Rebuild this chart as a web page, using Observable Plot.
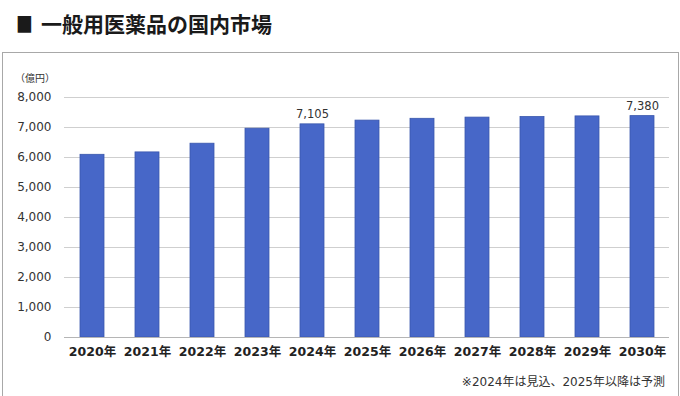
<!DOCTYPE html>
<html>
<head>
<meta charset="utf-8">
<script src="https://cdn.jsdelivr.net/npm/d3@7"></script>
<script src="https://cdn.jsdelivr.net/npm/@observablehq/plot@0.6"></script>
<style>
  html, body { margin: 0; padding: 0; background: #fff; }
  body { width: 680px; height: 396px; position: relative; overflow: hidden;
         font-family: "DejaVu Sans", "Noto Sans CJK JP", sans-serif; }
  #title { position: absolute; left: 16px; top: 8px; font-family: "Noto Sans CJK JP", sans-serif;
           font-weight: 700; font-size: 21px; color: #1a1a1a; white-space: nowrap; }
  #title .sq { display: inline-block; margin-right: 4px; transform: scaleX(0.8); transform-origin: left center; }
  #box { position: absolute; left: 2px; top: 52px; width: 675px; height: 360px;
         border: 1px solid #a8a8a8; pointer-events: none; }
  #unit { position: absolute; left: 15px; top: 70px; font-size: 10px; color: #333;
          font-family: "Noto Sans CJK JP", sans-serif; }
  #note { position: absolute; right: 15px; top: 372px; font-size: 12px; color: #333;
          font-family: "DejaVu Sans", "Noto Sans CJK JP", sans-serif; white-space: nowrap; }
  #chart { position: absolute; left: 0; top: 0; }
</style>
</head>
<body>
<div id="title"><span class="sq">■</span>一般用医薬品の国内市場</div>
<div id="box"></div>
<div id="chart"></div>
<div id="unit">（億円）</div>
<div id="note">※2024年は見込、2025年以降は予測</div>
<script>
const years = ["2020年","2021年","2022年","2023年","2024年","2025年","2026年","2027年","2028年","2029年","2030年"];
const values = [6090, 6170, 6460, 6960, 7105, 7230, 7290, 7330, 7350, 7370, 7380];
const labeledYears = ["2024年", "2030年"];
const yTicks = [0, 1000, 2000, 3000, 4000, 5000, 6000, 7000, 8000];

const data = years.map((y, i) => ({year: y, value: values[i]}));
const labeled = data.filter(d => labeledYears.includes(d.year));
const fmt = d3.format(",");

const chart = Plot.plot({
  width: 680,
  height: 396,
  marginTop: 97,
  marginBottom: 59,
  marginLeft: 64,
  marginRight: 11,
  style: {fontFamily: '"DejaVu Sans", "Noto Sans CJK JP", sans-serif', background: "transparent", color: "#222"},
  x: {domain: years, paddingInner: 0.565, paddingOuter: 0.28, label: null},
  y: {domain: [0, 8000], label: null},
  marks: [
    Plot.ruleY(yTicks.slice(1), {stroke: "#cfcfcf", strokeWidth: 1}),
    Plot.barY(data, {x: "year", y: "value", fill: "#4767c8", stroke: "#3a57ad", strokeWidth: 0.8}),
    Plot.ruleY([0], {stroke: "#b5b5b5", strokeWidth: 1.2}),
    Plot.text(labeled, {x: "year", y: "value", text: d => fmt(d.value), dy: -10, fontSize: 11.5, fill: "#333"}),
    Plot.axisY({ticks: yTicks, tickFormat: fmt, tickSize: 0, tickPadding: 13, fontSize: 12, label: null, fill: "#333"}),
    Plot.axisX({tickSize: 0, tickPadding: 10, fontSize: 12.5, fontWeight: "bold", label: null, fill: "#222"})
  ]
});
document.getElementById("chart").appendChild(chart);
</script>
</body>
</html>
